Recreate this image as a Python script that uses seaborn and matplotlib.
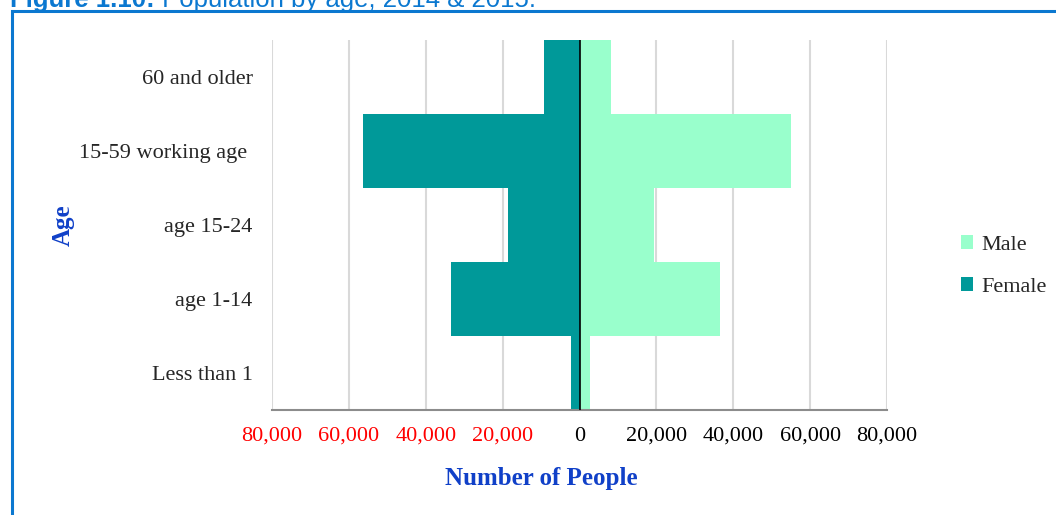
import matplotlib
matplotlib.use("Agg")
import matplotlib.pyplot as plt
import seaborn as sns
import pandas as pd
from matplotlib.patches import Rectangle

# ----------------------------------------------------------------------
# Data
# ----------------------------------------------------------------------
age_groups = ["60 and older", "15-59 working age ", "age 15-24", "age 1-14", "Less than 1"]
male = [8200, 54900, 19400, 36500, 2700]
female = [9200, 56400, 18500, 33500, 2300]
x_ticks = [-80000, -60000, -40000, -20000, 0, 20000, 40000, 60000, 80000]
x_tick_labels = ["80,000", "60,000", "40,000", "20,000", "0",
                 "20,000", "40,000", "60,000", "80,000"]

df = pd.DataFrame({
    "Age": age_groups * 2,
    "People": male + [-v for v in female],
    "Sex": ["Male"] * len(male) + ["Female"] * len(female),
})

# ----------------------------------------------------------------------
# Plot
# ----------------------------------------------------------------------
sns.set_theme(style="white")
plt.rcParams["font.family"] = ["Liberation Serif", "DejaVu Serif"]

BLUE = "#1040C8"
FRAME = "#0B78D0"

W, H = 1056, 515
fig = plt.figure(figsize=(W / 100, H / 100), dpi=100)
ax = fig.add_axes([272 / W, 1 - 410 / H, (887 - 272) / W, (410 - 40) / H])

sns.barplot(data=df, y="Age", x="People", hue="Sex", order=age_groups,
            hue_order=["Male", "Female"],
            palette={"Male": "#99FFCC", "Female": "#009999"},
            saturation=1, dodge=False, width=1.0, linewidth=0,
            orient="h", ax=ax)

ax.set_xlim(-80000, 80000)
ax.set_ylim(len(age_groups) - 0.5, -0.5)
ax.set_xticks(x_ticks)
ax.set_xticklabels(x_tick_labels)
for lbl, v in zip(ax.get_xticklabels(), x_ticks):
    lbl.set_color("red" if v < 0 else "black")
ax.tick_params(axis="x", length=0, pad=12, labelsize=16)
ax.tick_params(axis="y", length=0, pad=14, labelsize=16)

ax.grid(axis="x", color="#D9D9D9", linewidth=1.5)
ax.set_axisbelow(True)
ax.axvline(0, color="black", linewidth=1.2, zorder=3)

for side in ["top", "right", "left"]:
    ax.spines[side].set_visible(False)
ax.spines["bottom"].set_color("#8C8C8C")
ax.spines["bottom"].set_linewidth(1.5)

ax.set_xlabel("")
ax.set_ylabel("")
fig.text(541 / W, 1 - 478 / H, "Number of People", color=BLUE,
         fontsize=18, fontweight="bold", ha="center", va="center")
fig.text(63 / W, 1 - 225 / H, "Age", color=BLUE, fontsize=18,
         fontweight="bold", rotation=90, ha="center", va="center")

ax.legend(loc="center left", bbox_to_anchor=(952 / W, 1 - 266 / H),
          bbox_transform=fig.transFigure, frameon=False, fontsize=16,
          handlelength=0.55, handleheight=0.55, handletextpad=0.35,
          labelspacing=1.0, borderaxespad=0)

# frame and (cut-off) caption
fig.patches.append(Rectangle((12 / W, -0.1), 1.2, 1 - 11 / H + 0.1,
                             transform=fig.transFigure, fill=False,
                             edgecolor=FRAME, linewidth=2.2))
t1 = fig.text(10 / W, 1 - 7 / H, "Figure 1.10:", color=FRAME, fontsize=18.5,
              fontweight="bold", family="Liberation Sans", va="baseline")
ax.annotate(" Population by age, 2014 & 2015.", xy=(1, 0), xycoords=t1,
            va="bottom", color=FRAME, fontsize=18.5, family="Liberation Sans",
            annotation_clip=False)

fig.savefig("out.png", dpi=100)
